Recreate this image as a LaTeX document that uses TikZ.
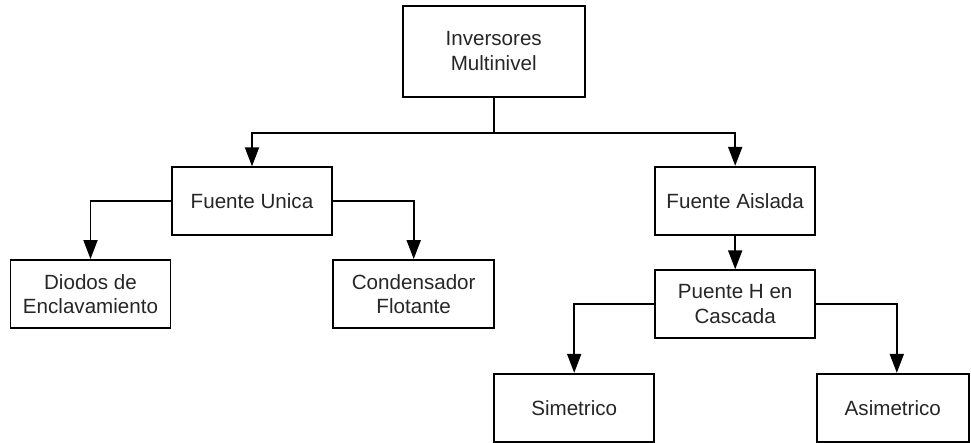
\documentclass[tikz,border=0pt]{standalone}
\usepackage{fontspec}
\setmainfont{Liberation Sans}
\usetikzlibrary{arrows.meta}
\tikzset{
  box/.style={draw, line width=1.9pt, align=center, inner sep=2pt,
    minimum width=160pt, minimum height=68pt, text=black!85,
    font=\fontsize{20.6}{24.7}\selectfont},
  arr/.style={line width=1.9pt, -{Triangle[width=14pt,length=19pt]}}
}
\begin{document}
\begin{tikzpicture}[x=1pt,y=-1pt]
\useasboundingbox (0,0) rectangle (971,443);

\node[box, minimum width=182pt, minimum height=91pt] (inv) at (493.7,51.3) {Inversores\\Multinivel};

\node[box] (unica) at (252,201.3) {Fuente Unica};
\node[box] (aislada) at (735.2,200.8) {Fuente Aislada};

\node[box] (diodos) at (90.5,294) {Diodos de\\Enclavamiento};
\node[box, minimum width=161pt] (condens) at (413.7,294) {Condensador\\Flotante};
\node[box] (puente) at (735.2,304.3) {Puente H en\\Cascada};

\node[box] (sim) at (574.2,407.8) {Simetrico};
\node[box, minimum width=152pt] (asim) at (892.8,407.8) {Asimetrico};

\coordinate (split) at (493.7,132.7);
\draw[line width=1.9pt] (inv.south) -- (split);
\draw[arr] (split) -| (unica.north);
\draw[arr] (split) -| (aislada.north);

\draw[arr] (unica.west) -| (diodos.north);
\draw[arr] (unica.east) -| (condens.north);

\draw[arr] (aislada.south) -- (puente.north);

\draw[arr] (puente.west) -| (sim.north);
\draw[arr] (puente.east) -| ([xshift=4pt]asim.north);
\end{tikzpicture}
\end{document}
